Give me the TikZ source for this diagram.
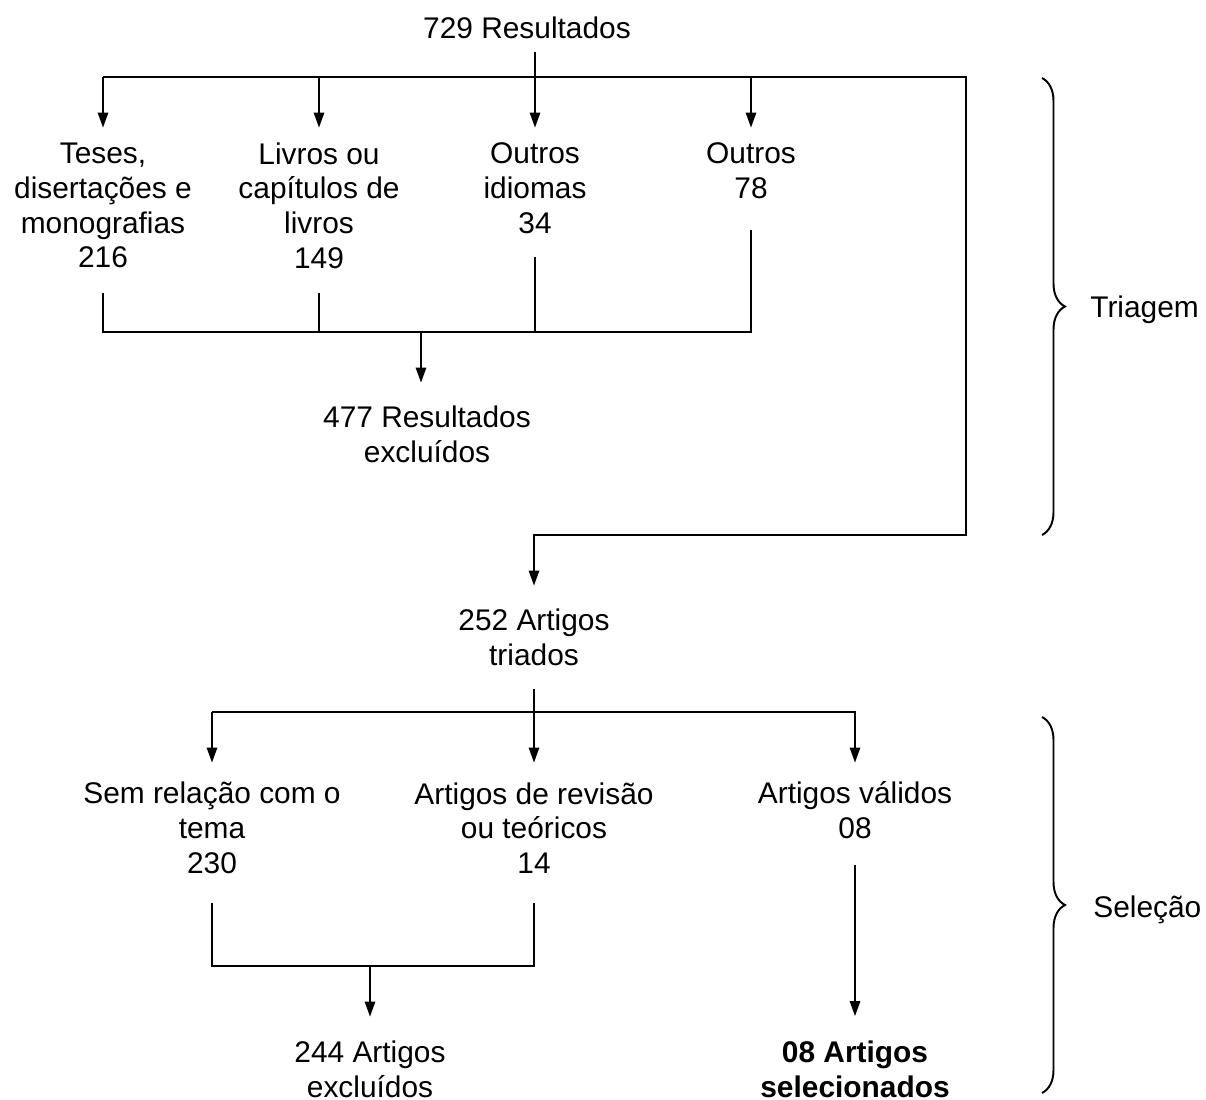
\documentclass[tikz,border=0pt]{standalone}
\usepackage{fontspec}
\setmainfont{Liberation Sans}
\usetikzlibrary{arrows.meta,decorations.pathreplacing}

\begin{document}
\begin{tikzpicture}[x=0.02cm,y=-0.02cm,
  txt/.style={align=center,inner sep=0,font=\fontsize{17}{19.8}\selectfont},
  txtb/.style={txt,font=\fontsize{17}{19.8}\selectfont\bfseries},
  line/.style={line width=1.1pt},
  arr/.style={line,-{Triangle[length=8.5pt,width=5.8pt]}},
  brc/.style={line,decorate,decoration={brace,amplitude=0.46cm}}]
\useasboundingbox (0,0) rectangle (1206,1099);

\node[txt,minimum height=0.96cm] (res) at (527,28) {729 Resultados};
\node[txt,minimum height=3.1cm] (teses) at (103,205.5) {Teses,\\disertações e\\monografias\\216};
\node[txt,minimum height=3.1cm] (livros) at (319,205.5) {Livros ou\\capítulos de\\livros\\149};
\node[txt,minimum height=2.4cm] (idiomas) at (535,188) {Outros\\idiomas\\34};
\node[txt,minimum height=1.7cm] (outros) at (751,170.5) {Outros\\78};
\node[txt,minimum height=2.06cm] (excl) at (427,434.5) {477 Resultados\\excluídos};
\node[txt,minimum height=2.06cm] (triados) at (534,637.5) {252 Artigos\\triados};
\node[txt,minimum height=2.6cm] (semrel) at (212,828) {Sem relação com o\\tema\\230};
\node[txt,minimum height=2.6cm] (revisao) at (534,828) {Artigos de revisão\\ou teóricos\\14};
\node[txt,minimum height=1.9cm] (validos) at (855,810.5) {Artigos válidos\\08};
\node[txt,minimum height=2.08cm] (excl2) at (370,1069) {244 Artigos\\excluídos};
\node[txtb,minimum height=2.1cm] (sel) at (855,1069) {08 Artigos\\selecionados};

\coordinate (topbar) at (535,77);
\coordinate (xbar) at (421,332);
\coordinate (loopr) at (966,535);
\coordinate (midbar) at (534,712);
\coordinate (xbar2) at (370,966);

\draw[arr] (idiomas.north |- res.south) -- (idiomas.north);
\draw[arr] (teses.north |- topbar) -- (topbar -| loopr) -- (loopr) -- (loopr -| triados.north) -- (triados.north);
\draw[arr] (teses.north |- topbar) -- (teses.north);
\draw[arr] (livros.north |- topbar) -- (livros.north);
\draw[arr] (outros.north |- topbar) -- (outros.north);

\draw[line,shorten <=5.67pt,shorten >=9.64pt] (teses.south) -- (teses.south |- xbar) -- (outros.south |- xbar) -- (outros.south);
\draw[line,shorten <=5.67pt] (livros.south) -- (livros.south |- xbar);
\draw[line,shorten <=5.1pt] (idiomas.south) -- (idiomas.south |- xbar);
\draw[arr] (xbar) -- (xbar |- excl.north);

\draw[arr] (triados.south) -- (revisao.north);
\draw[arr] (semrel.north |- midbar) -- (validos.north |- midbar) -- (validos.north);
\draw[arr] (semrel.north |- midbar) -- (semrel.north);
\draw[line,shorten <=5.67pt,shorten >=5.67pt] (semrel.south) -- (semrel.south |- xbar2) -- (revisao.south |- xbar2) -- (revisao.south);
\draw[arr] (xbar2) -- (excl2.north);
\draw[arr,shorten <=3.97pt] (validos.south) -- (sel.north);

\draw[brc] (1042,78) -- (1042,535);
\draw[brc] (1042,717) -- (1042,1093);
\node[txt,anchor=base west] (triagem) at (1090,317) {Triagem};
\node[txt,anchor=base west] (selecao) at (1093,917) {Seleção};
\end{tikzpicture}
\end{document}
